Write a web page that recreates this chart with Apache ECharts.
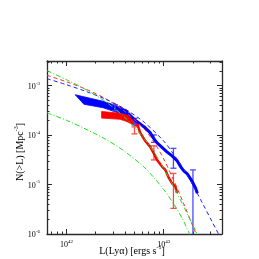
<!DOCTYPE html>
<html><head><meta charset="utf-8">
<script src="https://cdn.jsdelivr.net/npm/echarts@6/dist/echarts.min.js"></script>
<style>html,body{margin:0;padding:0;background:#fff}#c{width:259px;height:259px}</style>
</head><body><div id="c"></div>
<script>
// ---------- axis ranges and ticks ----------
const xRange = [6.31e41, 3.98e43];
const yRange = [1e-6, 3.16e-3];
const xMajorTicks = [1e42, 1e43];
const xTickLabels = ['42', '43'];
const xMinorTicks = [7e41, 8e41, 9e41, 2e42, 3e42, 4e42, 5e42, 6e42, 7e42, 8e42, 9e42, 2e43, 3e43];
const yMajorTicks = [1e-6, 1e-5, 1e-4, 1e-3];
const yTickLabels = ['-6', '-5', '-4', '-3'];
const yMinorTicks = [2e-6, 3e-6, 4e-6, 5e-6, 6e-6, 7e-6, 8e-6, 9e-6,
  2e-5, 3e-5, 4e-5, 5e-5, 6e-5, 7e-5, 8e-5, 9e-5,
  2e-4, 3e-4, 4e-4, 5e-4, 6e-4, 7e-4, 8e-4, 9e-4, 2e-3, 3e-3];

// ---------- model curves ----------
const greenUpperL = [6.31e41, 1e42, 1.585e42, 2.512e42, 3.981e42, 6.31e42, 7.943e42, 1e43, 1.259e43, 1.585e43, 1.995e43, 2.239e43];
const greenUpperN = [2.014e-3, 1.324e-3, 8.32e-4, 4.79e-4, 2.29e-4, 8.51e-5, 4.57e-5, 2.14e-5, 9.33e-6, 3.80e-6, 1.51e-6, 9.55e-7];
const greenLowerL = [6.31e41, 1e42, 1.585e42, 2.512e42, 3.981e42, 6.31e42, 7.943e42, 1e43, 1.259e43, 1.585e43, 1.778e43, 1.905e43];
const greenLowerN = [2.83e-4, 2.0e-4, 1.32e-4, 8.32e-5, 4.68e-5, 2.24e-5, 1.38e-5, 7.94e-6, 4.17e-6, 1.91e-6, 1.17e-6, 8.9e-7];
const redFitL = [6.31e41, 1e42, 1.585e42, 2.512e42, 3.981e42, 6.31e42, 7.943e42, 1e43, 1.259e43, 1.585e43, 1.995e43, 2.188e43];
const redFitN = [1.622e-3, 1.202e-3, 8.51e-4, 5.50e-4, 3.02e-4, 1.318e-4, 7.24e-5, 3.31e-5, 1.259e-5, 4.37e-6, 1.445e-6, 9.33e-7];
const blueFitL = [6.31e41, 1e42, 1.585e42, 2.512e42, 3.981e42, 6.31e42, 1e43, 1.259e43, 1.585e43, 1.995e43, 2.512e43, 3.162e43, 3.715e43];
const blueFitN = [1.387e-3, 1.047e-3, 7.67e-4, 5.37e-4, 3.39e-4, 1.82e-4, 7.59e-5, 4.17e-5, 2.14e-5, 9.77e-6, 4.17e-6, 1.74e-6, 9.55e-7];

// ---------- observed cumulative counts ----------
const blueBandUpperL = [1.23e42, 1.58e42, 2.38e42, 3.4e42, 4.31e42];
const blueBandUpperN = [6.57e-4, 5.85e-4, 4.85e-4, 3.84e-4, 3.11e-4];
const blueBandLowerL = [1.51e42, 2.38e42, 3.4e42, 4.31e42];
const blueBandLowerN = [4.22e-4, 3.58e-4, 2.83e-4, 2.46e-4];
const blueLineL = [4.31e42, 5.09e42, 6.46e42, 7.28e42, 7.82e42, 8.55e42, 9.25e42, 1.08e43, 1.22e43, 1.38e43, 1.49e43, 1.61e43, 1.75e43, 1.97e43, 2.13e43, 2.22e43];
const blueLineN = [2.77e-4, 2.0e-4, 1.41e-4, 1.11e-4, 8.81e-5, 6.98e-5, 6.07e-5, 4.58e-5, 3.8e-5, 3.01e-5, 2.31e-5, 1.89e-5, 1.64e-5, 1.15e-5, 8.41e-6, 6.67e-6];
const redBandUpperL = [2.3e42, 2.81e42, 3.56e42, 4.11e42, 4.74e42, 5.35e42];
const redBandUpperN = [3.01e-4, 2.9e-4, 2.77e-4, 2.58e-4, 2.24e-4, 1.95e-4];
const redBandLowerL = [2.3e42, 2.81e42, 3.56e42, 4.11e42, 4.74e42, 5.35e42];
const redBandLowerN = [2.21e-4, 2.16e-4, 2.09e-4, 1.91e-4, 1.66e-4, 1.47e-4];
const redLineL = [5.35e42, 5.74e42, 6.46e42, 7.28e42, 7.87e42, 8.55e42, 9.62e42, 1.04e43, 1.13e43, 1.22e43, 1.32e43, 1.37e43];
const redLineN = [1.69e-4, 1.11e-4, 7.66e-5, 5.79e-5, 4.38e-5, 3.15e-5, 2.31e-5, 1.98e-5, 1.36e-5, 1.06e-5, 9.06e-6, 6.76e-6];

// ---------- error bars ----------
const blueErrL = [3.16e42, 5.01e42, 7.94e42, 1.26e43, 2.0e43];
const blueErrHi = [4.12e-4, 2.19e-4, 1.01e-4, 5.4e-5, 1.98e-5];
const blueErrLo = [3.11e-4, 1.62e-4, 7.14e-5, 2.14e-5, 5e-7];
const redErrL = [5.01e42, 7.94e42, 1.26e43];
const redErrHi = [1.47e-4, 6.07e-5, 1.68e-5];
const redErrLo = [1.06e-4, 3.15e-5, 3.3e-6];

// ---------- build ----------
const lg = Math.log10;
const pairs = (L, N) => L.map((v, i) => [lg(v), lg(N[i])]);
const FONT = 'Liberation Serif';
const AXC = '#2a2a2a';

function makeX(pos, ticks, len, line, labels) {
  return {
    type: 'value', position: pos, min: lg(xRange[0]), max: lg(xRange[1]),
    axisLine: { show: line, onZero: false, lineStyle: { color: AXC, width: 1.3 } },
    axisTick: { show: true, inside: true, length: len, customValues: ticks.map(lg), lineStyle: { color: AXC, width: 1 } },
    axisLabel: labels ? {
      show: true, margin: 5, customValues: xMajorTicks.map(lg),
      formatter: v => '{b|10}{s|' + xTickLabels[xMajorTicks.findIndex(t => Math.abs(lg(t) - v) < 1e-6)] + '}',
      rich: { b: { fontFamily: FONT, fontSize: 8, color: '#000', lineHeight: 10, verticalAlign: 'bottom' },
              s: { fontFamily: FONT, fontSize: 5, color: '#000', lineHeight: 10, verticalAlign: 'top' } }
    } : { show: false },
    splitLine: { show: false }
  };
}
function makeY(pos, ticks, len, line, labels) {
  return {
    type: 'value', position: pos, min: lg(yRange[0]), max: lg(yRange[1]),
    axisLine: { show: line, onZero: false, lineStyle: { color: AXC, width: 1.3 } },
    axisTick: { show: true, inside: true, length: len, customValues: ticks.map(lg), lineStyle: { color: AXC, width: 1 } },
    axisLabel: labels ? {
      show: true, margin: 7, customValues: yMajorTicks.map(lg),
      formatter: v => '{b|10}{s|' + yTickLabels[yMajorTicks.findIndex(t => Math.abs(lg(t) - v) < 1e-6)] + '}',
      rich: { b: { fontFamily: FONT, fontSize: 8, color: '#000', lineHeight: 10, verticalAlign: 'bottom' },
              s: { fontFamily: FONT, fontSize: 5, color: '#000', lineHeight: 10, verticalAlign: 'top' } }
    } : { show: false },
    splitLine: { show: false }
  };
}

function polygonSeries(pts, color) {
  return {
    type: 'custom', xAxisIndex: 0, yAxisIndex: 0, clip: true, silent: true,
    data: [pts[0]],
    renderItem: (params, api) => ({
      type: 'polygon', shape: { points: pts.map(p => api.coord(p)) },
      style: { fill: color, stroke: color, lineWidth: 0.8 }
    })
  };
}
function lineSeries(L, N, color, width, dash, smooth) {
  return {
    type: 'line', xAxisIndex: 0, yAxisIndex: 0, data: pairs(L, N), showSymbol: false,
    smooth: smooth, clip: true, silent: true,
    lineStyle: { color: color, width: width, type: dash || 'solid' }
  };
}
function errSeries(L, hi, lo, color) {
  return {
    type: 'custom', xAxisIndex: 0, yAxisIndex: 0, clip: true, silent: true,
    data: L.map((v, i) => [lg(v), lg(hi[i]), lg(lo[i])]),
    renderItem: (params, api) => {
      const a = api.coord([api.value(0), api.value(1)]);
      const b = api.coord([api.value(0), api.value(2)]);
      const w = 3, st = { stroke: color, lineWidth: 1.3 };
      return { type: 'group', children: [
        { type: 'line', shape: { x1: a[0], y1: a[1], x2: b[0], y2: b[1] }, style: st },
        { type: 'line', shape: { x1: a[0] - w, y1: a[1], x2: a[0] + w, y2: a[1] }, style: st },
        { type: 'line', shape: { x1: b[0] - w, y1: b[1], x2: b[0] + w, y2: b[1] }, style: st }
      ] };
    }
  };
}

const bluePoly = pairs(blueBandUpperL, blueBandUpperN).concat(pairs(blueBandLowerL, blueBandLowerN).reverse());
const redPoly = pairs(redBandUpperL, redBandUpperN).concat(pairs(redBandLowerL, redBandLowerN).reverse());

const chart = echarts.init(document.getElementById('c'), null, { renderer: 'canvas' });
chart.setOption({
  animation: false,
  backgroundColor: '#fff',
  grid: { left: 47, right: 37, top: 61, bottom: 25 },
  xAxis: [
    makeX('bottom', xMajorTicks, 5, true, true),
    makeX('bottom', xMinorTicks, 2.5, false, false),
    makeX('top', xMajorTicks, 5, true, false),
    makeX('top', xMinorTicks, 2.5, false, false)
  ],
  yAxis: [
    makeY('left', yMajorTicks, 5, true, true),
    makeY('left', yMinorTicks, 2.5, false, false),
    makeY('right', yMajorTicks, 5, true, false),
    makeY('right', yMinorTicks, 2.5, false, false)
  ],
  series: [
    polygonSeries(bluePoly, '#0000ff'),
    polygonSeries(redPoly, '#ff0000'),
    lineSeries(blueLineL, blueLineN, '#0000ff', 3, 'solid', false),
    lineSeries(redLineL, redLineN, '#ff0000', 2.5, 'solid', false),
    lineSeries(redFitL, redFitN, '#ff3030', 1, [4, 3], 0.3),
    lineSeries(blueFitL, blueFitN, '#2020ff', 1, [4, 3], 0.3),
    lineSeries(greenUpperL, greenUpperN, '#22dd22', 1, [5, 2, 1, 2], 0.3),
    lineSeries(greenLowerL, greenLowerN, '#22dd22', 1, [5, 2, 1, 2], 0.3),
    errSeries(blueErrL, blueErrHi, blueErrLo, '#4a4aff'),
    errSeries(redErrL, redErrHi, redErrLo, '#ff4a4a')
  ],
  graphic: [
    { type: 'text', x: 132, y: 250,
      style: { text: '{t|L(Lyα) [ergs s}{s|-1}{t|]}', align: 'center', verticalAlign: 'middle', rich: {
        t: { fontFamily: FONT, fontSize: 10, fill: '#000', lineHeight: 12, verticalAlign: 'bottom' },
        s: { fontFamily: FONT, fontSize: 6, fill: '#000', lineHeight: 12, verticalAlign: 'top' } } } },
    { type: 'text', x: 19, y: 152, rotation: Math.PI / 2,
      style: { text: '{t|N(>L) [Mpc}{s|-3}{t|]}', align: 'center', verticalAlign: 'middle', rich: {
        t: { fontFamily: FONT, fontSize: 10, fill: '#000', lineHeight: 12, verticalAlign: 'bottom' },
        s: { fontFamily: FONT, fontSize: 6, fill: '#000', lineHeight: 12, verticalAlign: 'top' } } } }
  ]
});
</script>
</body></html>
